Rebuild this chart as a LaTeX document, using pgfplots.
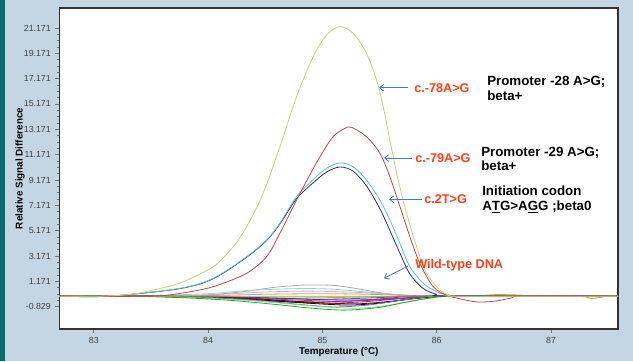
\documentclass[border=0pt]{standalone}
\usepackage{fontspec}
\setmainfont{Liberation Sans}
\usepackage{pgfplots}
\pgfplotsset{compat=1.18}
\usetikzlibrary{arrows.meta}
\definecolor{bgc}{RGB}{196,213,228}
\definecolor{strip}{RGB}{12,108,104}
\definecolor{cyel}{RGB}{196,212,128}
\definecolor{cred}{RGB}{196,72,72}
\definecolor{ccyan}{RGB}{96,192,192}
\definecolor{cnavy}{RGB}{50,45,120}
\definecolor{lab}{RGB}{255,64,24}
\definecolor{arr}{RGB}{70,125,185}
\definecolor{wgrey}{RGB}{170,170,170}
\definecolor{wlcyan}{RGB}{120,225,225}
\definecolor{wpink}{RGB}{232,160,200}
\definecolor{wtan}{RGB}{200,160,112}
\definecolor{worange}{RGB}{232,144,32}
\definecolor{wteal}{RGB}{0,128,128}
\definecolor{wblue}{RGB}{32,64,192}
\definecolor{wbrown}{RGB}{160,80,48}
\definecolor{wmag}{RGB}{200,0,200}
\definecolor{wpurp}{RGB}{112,48,160}
\definecolor{wdred}{RGB}{128,0,0}
\definecolor{wviol}{RGB}{128,96,224}
\definecolor{wgreen}{RGB}{32,176,32}
\definecolor{wlime}{RGB}{128,224,128}
\definecolor{wolive}{RGB}{160,160,64}
\begin{document}
\begin{tikzpicture}
\begin{scope}[x=0.75pt,y=-0.75pt]
\fill[bgc] (0,0) rectangle (633,361);
\fill[strip] (0,0) rectangle (5,361);
\end{scope}
\begin{axis}[
  at={(44.625pt,-246.75pt)}, anchor=south west,
  scale only axis, width=418.875pt, height=240.75pt,
  xmin=82.70, xmax=87.586, ymin=-2.59, ymax=22.75,
  axis background/.style={fill=white},
  axis line style={black!80, line width=0.8pt},
  xtick={83,84,85,86,87},
  ytick={-0.829,1.171,3.171,5.171,7.171,9.171,11.171,13.171,15.171,17.171,19.171,21.171},
  yticklabels={-0.829,1.171,3.171,5.171,7.171,9.171,11.171,13.171,15.171,17.171,19.171,21.171},
  xticklabels={83,84,85,86,87},
  minor y tick num=3,
  tick align=outside, tick pos=left,
  major tick length=3pt, minor tick length=1.8pt,
  tick style={black!55, line width=0.5pt},
  ticklabel style={font=\fontsize{6.6}{8}\selectfont, text=black!75},
  /pgf/number format/assume math mode=true,
  xlabel={Temperature (°C)}, ylabel={Relative Signal Difference},
  every axis x label/.style={at={(axis description cs:0.5,-0.0717)}, anchor=center, font=\fontsize{7.4}{9}\selectfont\bfseries},
  every axis y label/.style={at={(axis description cs:-0.0704,0.5)}, rotate=90, anchor=center, font=\fontsize{7.4}{9}\selectfont\bfseries},
  clip=true,
  every axis plot/.append style={line width=0.6pt, smooth, no markers},
]
% wild-type bundle
\addplot[wgrey] coordinates {(82.70,0) (83.6,0) (84.0,0.1) (84.3,0.35) (84.6,0.72) (84.85,0.88) (85.1,0.85) (85.3,0.6) (85.5,0.28) (85.7,0.06) (85.9,0) (87.586,0)};
\addplot[wlcyan] coordinates {(82.70,0) (83.3,0) (84.0,0.2) (84.4,0.48) (84.8,0.6) (85.1,0.55) (85.4,0.32) (85.7,0.1) (86.0,0) (87.586,0)};
\addplot[wpink] coordinates {(82.70,0) (83.6,0) (84.0,0.1) (84.5,0.33) (84.9,0.4) (85.3,0.3) (85.7,0.1) (86.0,0) (87.586,0)};
\addplot[wtan] coordinates {(82.70,0) (83.4,0) (84.0,0.05) (84.5,0.15) (85.0,0.2) (85.4,0.15) (85.8,0.05) (86.0,0) (87.586,0)};
\addplot[worange] coordinates {(82.70,0) (83.2,0) (83.8,-0.05) (84.2,-0.12) (84.6,-0.15) (85.0,-0.12) (85.4,-0.06) (85.8,0) (86.3,0) (86.5,0.12) (86.7,0.1) (86.9,0) (87.586,0)};
\addplot[wteal] coordinates {(82.70,0) (83.3,0) (84.0,-0.05) (84.5,-0.15) (84.8,-0.22) (85.0,-0.25) (85.3,-0.18) (85.6,-0.07) (85.9,0) (87.586,0)};
\addplot[wblue] coordinates {(82.70,0) (83.5,0) (84.2,-0.06) (84.7,-0.18) (85.0,-0.27) (85.3,-0.3) (85.6,-0.2) (85.9,-0.05) (86.05,0) (87.586,0)};
\addplot[wbrown] coordinates {(82.70,0) (83.4,0) (84.0,-0.06) (84.5,-0.2) (84.9,-0.35) (85.2,-0.4) (85.5,-0.28) (85.8,-0.1) (86.0,0) (87.586,0)};
\addplot[wmag] coordinates {(82.70,0) (83.5,0) (84.0,-0.08) (84.4,-0.25) (84.8,-0.42) (85.0,-0.45) (85.3,-0.35) (85.6,-0.15) (85.9,0) (87.586,0)};
\addplot[wpurp] coordinates {(82.70,0) (83.3,0) (83.8,-0.06) (84.2,-0.2) (84.6,-0.4) (84.9,-0.52) (85.1,-0.55) (85.4,-0.42) (85.7,-0.18) (86.0,0) (87.586,0)};
\addplot[wdred] coordinates {(82.70,0) (83.6,0) (84.1,-0.08) (84.5,-0.25) (84.9,-0.48) (85.3,-0.6) (85.6,-0.4) (85.85,-0.12) (86.05,0) (87.586,0)};
\addplot[black] coordinates {(82.70,0) (83.4,0) (83.9,-0.08) (84.3,-0.22) (84.7,-0.45) (85.0,-0.62) (85.25,-0.7) (85.5,-0.55) (85.75,-0.25) (86.0,-0.03) (86.1,0) (87.586,0)};
\addplot[wviol] coordinates {(82.70,0) (83.5,0) (84.0,-0.1) (84.4,-0.3) (84.8,-0.65) (85.1,-0.85) (85.4,-0.7) (85.7,-0.3) (85.95,-0.03) (86.1,0) (87.586,0)};
\addplot[wlime] coordinates {(82.70,0) (83.4,0) (83.9,-0.12) (84.3,-0.3) (84.7,-0.6) (85.0,-0.82) (85.3,-0.95) (85.55,-0.75) (85.8,-0.35) (86.05,-0.04) (86.2,0) (87.586,0)};
\addplot[wgreen] coordinates {(82.70,0) (83.3,0) (83.8,-0.13) (84.2,-0.33) (84.6,-0.66) (84.9,-0.94) (85.2,-1.1) (85.5,-0.88) (85.75,-0.44) (86.0,-0.06) (86.15,0) (87.586,0)};
\addplot[wolive] coordinates {(82.70,0) (86.2,0) (87.2,0) (87.35,-0.18) (87.5,0) (87.586,0)};
% mutants
\addplot[cnavy] coordinates {(82.70,0) (83.14,0) (83.754,0.6) (84.045,1.38) (84.337,3.08) (84.512,4.4) (84.628,5.7) (84.774,7.7) (84.919,8.95) (85.037,9.8) (85.153,10.2) (85.269,9.87) (85.386,8.7) (85.503,6.9) (85.590,5.2) (85.678,3.4) (85.765,1.75) (85.882,0.6) (85.998,0.15) (86.08,0) (87.586,0)};
\addplot[ccyan] coordinates {(82.70,0) (83.14,0) (83.754,0.62) (84.045,1.41) (84.337,3.12) (84.512,4.44) (84.628,5.76) (84.774,7.86) (84.919,9.2) (85.037,10.1) (85.153,10.52) (85.269,10.22) (85.386,9.17) (85.503,7.59) (85.590,6.02) (85.678,4.18) (85.765,2.33) (85.882,1.02) (85.998,0.36) (86.086,0.09) (86.2,0) (87.586,0)};
\addplot[cred] coordinates {(82.70,0) (83.49,0) (83.754,0.22) (84.045,0.75) (84.337,1.81) (84.512,3.12) (84.628,4.97) (84.745,7.07) (84.862,9.1) (84.978,11.0) (85.094,12.6) (85.197,13.25) (85.255,13.33) (85.386,12.59) (85.503,11.28) (85.590,9.43) (85.678,7.07) (85.765,4.70) (85.852,2.60) (85.969,0.75) (86.086,0.09) (86.2,-0.2) (86.35,-0.45) (86.5,-0.4) (86.65,-0.15) (86.75,0) (87.586,0)};
\addplot[cyel] coordinates {(82.70,0) (83.054,0) (83.343,0.17) (83.640,0.73) (83.754,1.02) (84.045,2.33) (84.220,3.91) (84.337,5.49) (84.482,8.12) (84.628,11.80) (84.774,15.75) (84.919,18.91) (85.037,20.62) (85.153,21.28) (85.269,20.75) (85.386,19.18) (85.474,17.07) (85.532,14.96) (85.590,12.33) (85.663,9.17) (85.736,6.54) (85.824,3.91) (85.911,1.81) (86.028,0.49) (86.115,0.09) (86.2,0) (87.586,0)};
\end{axis}
\begin{scope}[x=0.75pt,y=-0.75pt]
\draw[arr, line width=0.6pt, -{Straight Barb[length=3pt,width=5pt]}] (408,87.7) -- (379,87.7);
\draw[arr, line width=0.6pt, -{Straight Barb[length=3pt,width=5pt]}] (411.7,158) -- (384,158);
\draw[arr, line width=0.6pt, -{Straight Barb[length=3pt,width=5pt]}] (421.7,199.3) -- (389,199.3);
\draw[arr, line width=0.6pt, -{Straight Barb[length=3pt,width=5pt]}] (408,266) -- (384,278.3);
\begin{scope}[every node/.style={anchor=west, inner sep=0pt, text=lab, font=\fontsize{9.5}{11}\selectfont\bfseries}]
\node at (414,87.7) {c.-78A>G};
\node at (415,158.3) {c.-79A>G};
\node at (424,199.3) {c.2T>G};
\node at (415,265) {Wild-type DNA};
\end{scope}
\begin{scope}[every node/.style={anchor=base west, inner sep=0pt, text=black, font=\fontsize{10}{12}\selectfont\bfseries}]
\node at (487,85.5) {Promoter -28 A>G;};
\node at (487,100.5) {beta+};
\node at (481,157) {Promoter -29 A>G;};
\node at (481,170.5) {beta+};
\node at (482,196) {Initiation codon};
\node at (482,210.5) {A\underline{T}G>A\underline{G}G ;beta0};
\end{scope}
\end{scope}
\end{tikzpicture}
\end{document}
